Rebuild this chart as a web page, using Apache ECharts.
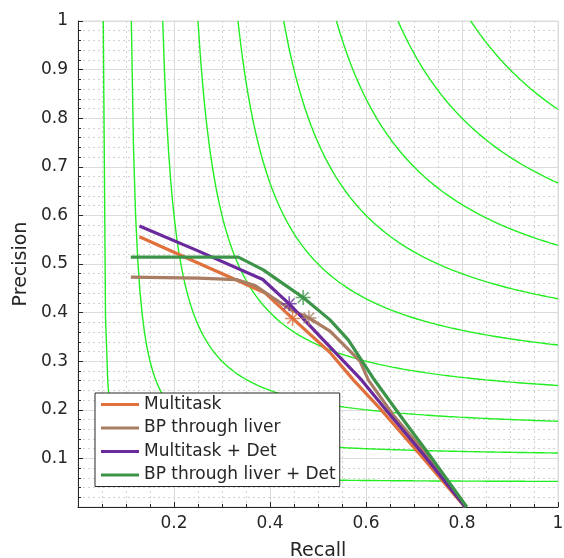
<!DOCTYPE html>
<html><head><meta charset="utf-8">
<script src="https://cdn.jsdelivr.net/npm/echarts@6/dist/echarts.min.js"></script>
<style>html,body{margin:0;padding:0;background:#fff}#c{width:564px;height:558px}</style>
</head><body><div id="c"></div>
<script>
// ---- data ----
const seriesNames = ['Multitask', 'BP through liver', 'Multitask + Det', 'BP through liver + Det'];

const multitaskRecall    = [0.128, 0.250, 0.330, 0.390, 0.447, 0.525, 0.574, 0.629, 0.7125, 0.806];
const multitaskPrecision = [0.556, 0.502, 0.467, 0.440, 0.388, 0.318, 0.261, 0.203, 0.108, 0.000];

const bpRecall    = [0.110, 0.250, 0.330, 0.370, 0.407, 0.445, 0.481, 0.525, 0.5875, 0.605, 0.660, 0.725, 0.806];
const bpPrecision = [0.473, 0.471, 0.468, 0.455, 0.430, 0.405, 0.389, 0.362, 0.300, 0.261, 0.185, 0.110, 0.000];

const mtDetRecall    = [0.128, 0.250, 0.385, 0.440, 0.510, 0.591, 0.650, 0.718, 0.807];
const mtDetPrecision = [0.578, 0.527, 0.468, 0.418, 0.345, 0.261, 0.190, 0.110, 0.000];

const bpDetRecall    = [0.110, 0.334, 0.386, 0.434, 0.469, 0.525, 0.563, 0.615, 0.678, 0.730, 0.810];
const bpDetPrecision = [0.514, 0.514, 0.488, 0.455, 0.431, 0.385, 0.344, 0.265, 0.179, 0.110, 0.000];

// operating points (asterisks), in legend order
const starRecall    = [0.447, 0.481, 0.440, 0.469];
const starPrecision = [0.388, 0.389, 0.418, 0.431];

// iso-F contour levels
const isoFLevels = [0.1, 0.2, 0.3, 0.4, 0.5, 0.6, 0.7, 0.8, 0.9];

// tick labels
const xTickValues = [0.2, 0.4, 0.6, 0.8, 1];
const xTickLabels = ['0.2', '0.4', '0.6', '0.8', '1'];
const yTickValues = [0.1, 0.2, 0.3, 0.4, 0.5, 0.6, 0.7, 0.8, 0.9, 1];
const yTickLabels = ['0.1', '0.2', '0.3', '0.4', '0.5', '0.6', '0.7', '0.8', '0.9', '1'];

// ---- build ----
const colors = ['#e0703c', '#a97c64', '#6a2a9c', '#3c9448'];
const pairs = [
  [multitaskRecall, multitaskPrecision],
  [bpRecall, bpPrecision],
  [mtDetRecall, mtDetPrecision],
  [bpDetRecall, bpDetPrecision]
];
const zip = (a, b) => a.map((v, i) => [v, b[i]]);

function labelFor(values, labels) {
  return function (v) {
    for (let i = 0; i < values.length; i++) {
      if (Math.abs(values[i] - v) < 1e-6) return labels[i];
    }
    return '';
  };
}

const isoSeries = isoFLevels.map(f => {
  const r0 = f / (2 - f);
  const pts = [];
  const n = 200;
  for (let i = 0; i <= n; i++) {
    const r = r0 + (1 - r0) * i / n;
    pts.push([r, f * r / (2 * r - f)]);
  }
  return {
    type: 'line', data: pts, showSymbol: false, symbol: 'none', silent: true,
    lineStyle: { color: '#22ee22', width: 1.4 }, z: 2, animation: false
  };
});

const curveSeries = pairs.map((p, i) => ({
  name: seriesNames[i], type: 'line', data: zip(p[0], p[1]), symbol: 'none',
  lineStyle: { color: colors[i], width: 3.2 }, itemStyle: { color: colors[i] },
  z: 3 + i, animation: false
}));

const starPath = 'path://M0,-1L0,1M-1,0L1,0M-0.707,-0.707L0.707,0.707M-0.707,0.707L0.707,-0.707';
const starSeries = starRecall.map((r, i) => ({
  name: 'op' + i, type: 'scatter', data: [[r, starPrecision[i]]], symbol: starPath, symbolSize: 15,
  itemStyle: { color: colors[i], borderColor: colors[i], borderWidth: 1.5 }, z: 8, animation: false
}));

const font = 'DejaVu Sans';
const axisCommon = {
  type: 'value', min: 0, max: 1,
  axisLine: { show: true, lineStyle: { color: '#262626', width: 1 } },
  axisTick: { show: true, inside: true, length: 5, lineStyle: { color: '#262626' } },
  splitLine: { show: true, lineStyle: { color: '#dcdcdc', width: 1 } },
  minorSplitLine: { show: true, lineStyle: { color: '#d2d2d2', width: 1, type: [2, 3] } },
  nameLocation: 'middle',
  nameTextStyle: { fontFamily: font, fontSize: 19, color: '#262626' }
};

const option = {
  backgroundColor: '#fff',
  animation: false,
  grid: { left: 78, right: 6, top: 21, bottom: 51, show: true, borderColor: '#dcdcdc', borderWidth: 1,
          containLabel: false, outerBoundsMode: 'none' },
  xAxis: Object.assign({}, axisCommon, {
    interval: 0.2, name: 'Recall', nameGap: 35,
    minorTick: { show: true, splitNumber: 4, length: 3, lineStyle: { color: '#262626' } },
    axisLabel: { formatter: labelFor(xTickValues, xTickLabels), fontFamily: font, fontSize: 17, color: '#262626', margin: 8 }
  }),
  yAxis: Object.assign({}, axisCommon, {
    interval: 0.1, name: 'Precision', nameGap: 47,
    minorTick: { show: true, splitNumber: 5, length: 3, lineStyle: { color: '#262626' } },
    axisLabel: { formatter: labelFor(yTickValues, yTickLabels), fontFamily: font, fontSize: 17, color: '#262626', margin: 10 }
  }),
  legend: {
    orient: 'vertical', left: 95, top: 393, data: seriesNames,
    icon: 'rect', itemWidth: 38, itemHeight: 3, itemGap: 6.5,
    padding: [3, 4, 3, 6],
    borderColor: '#262626', borderWidth: 1, backgroundColor: '#fff',
    textStyle: { fontFamily: font, fontSize: 17, lineHeight: 17, color: '#262626' }
  },
  series: [].concat(isoSeries, curveSeries, starSeries)
};

const chart = echarts.init(document.getElementById('c'), null, { renderer: 'canvas' });
chart.setOption(option);
</script>
</body></html>
